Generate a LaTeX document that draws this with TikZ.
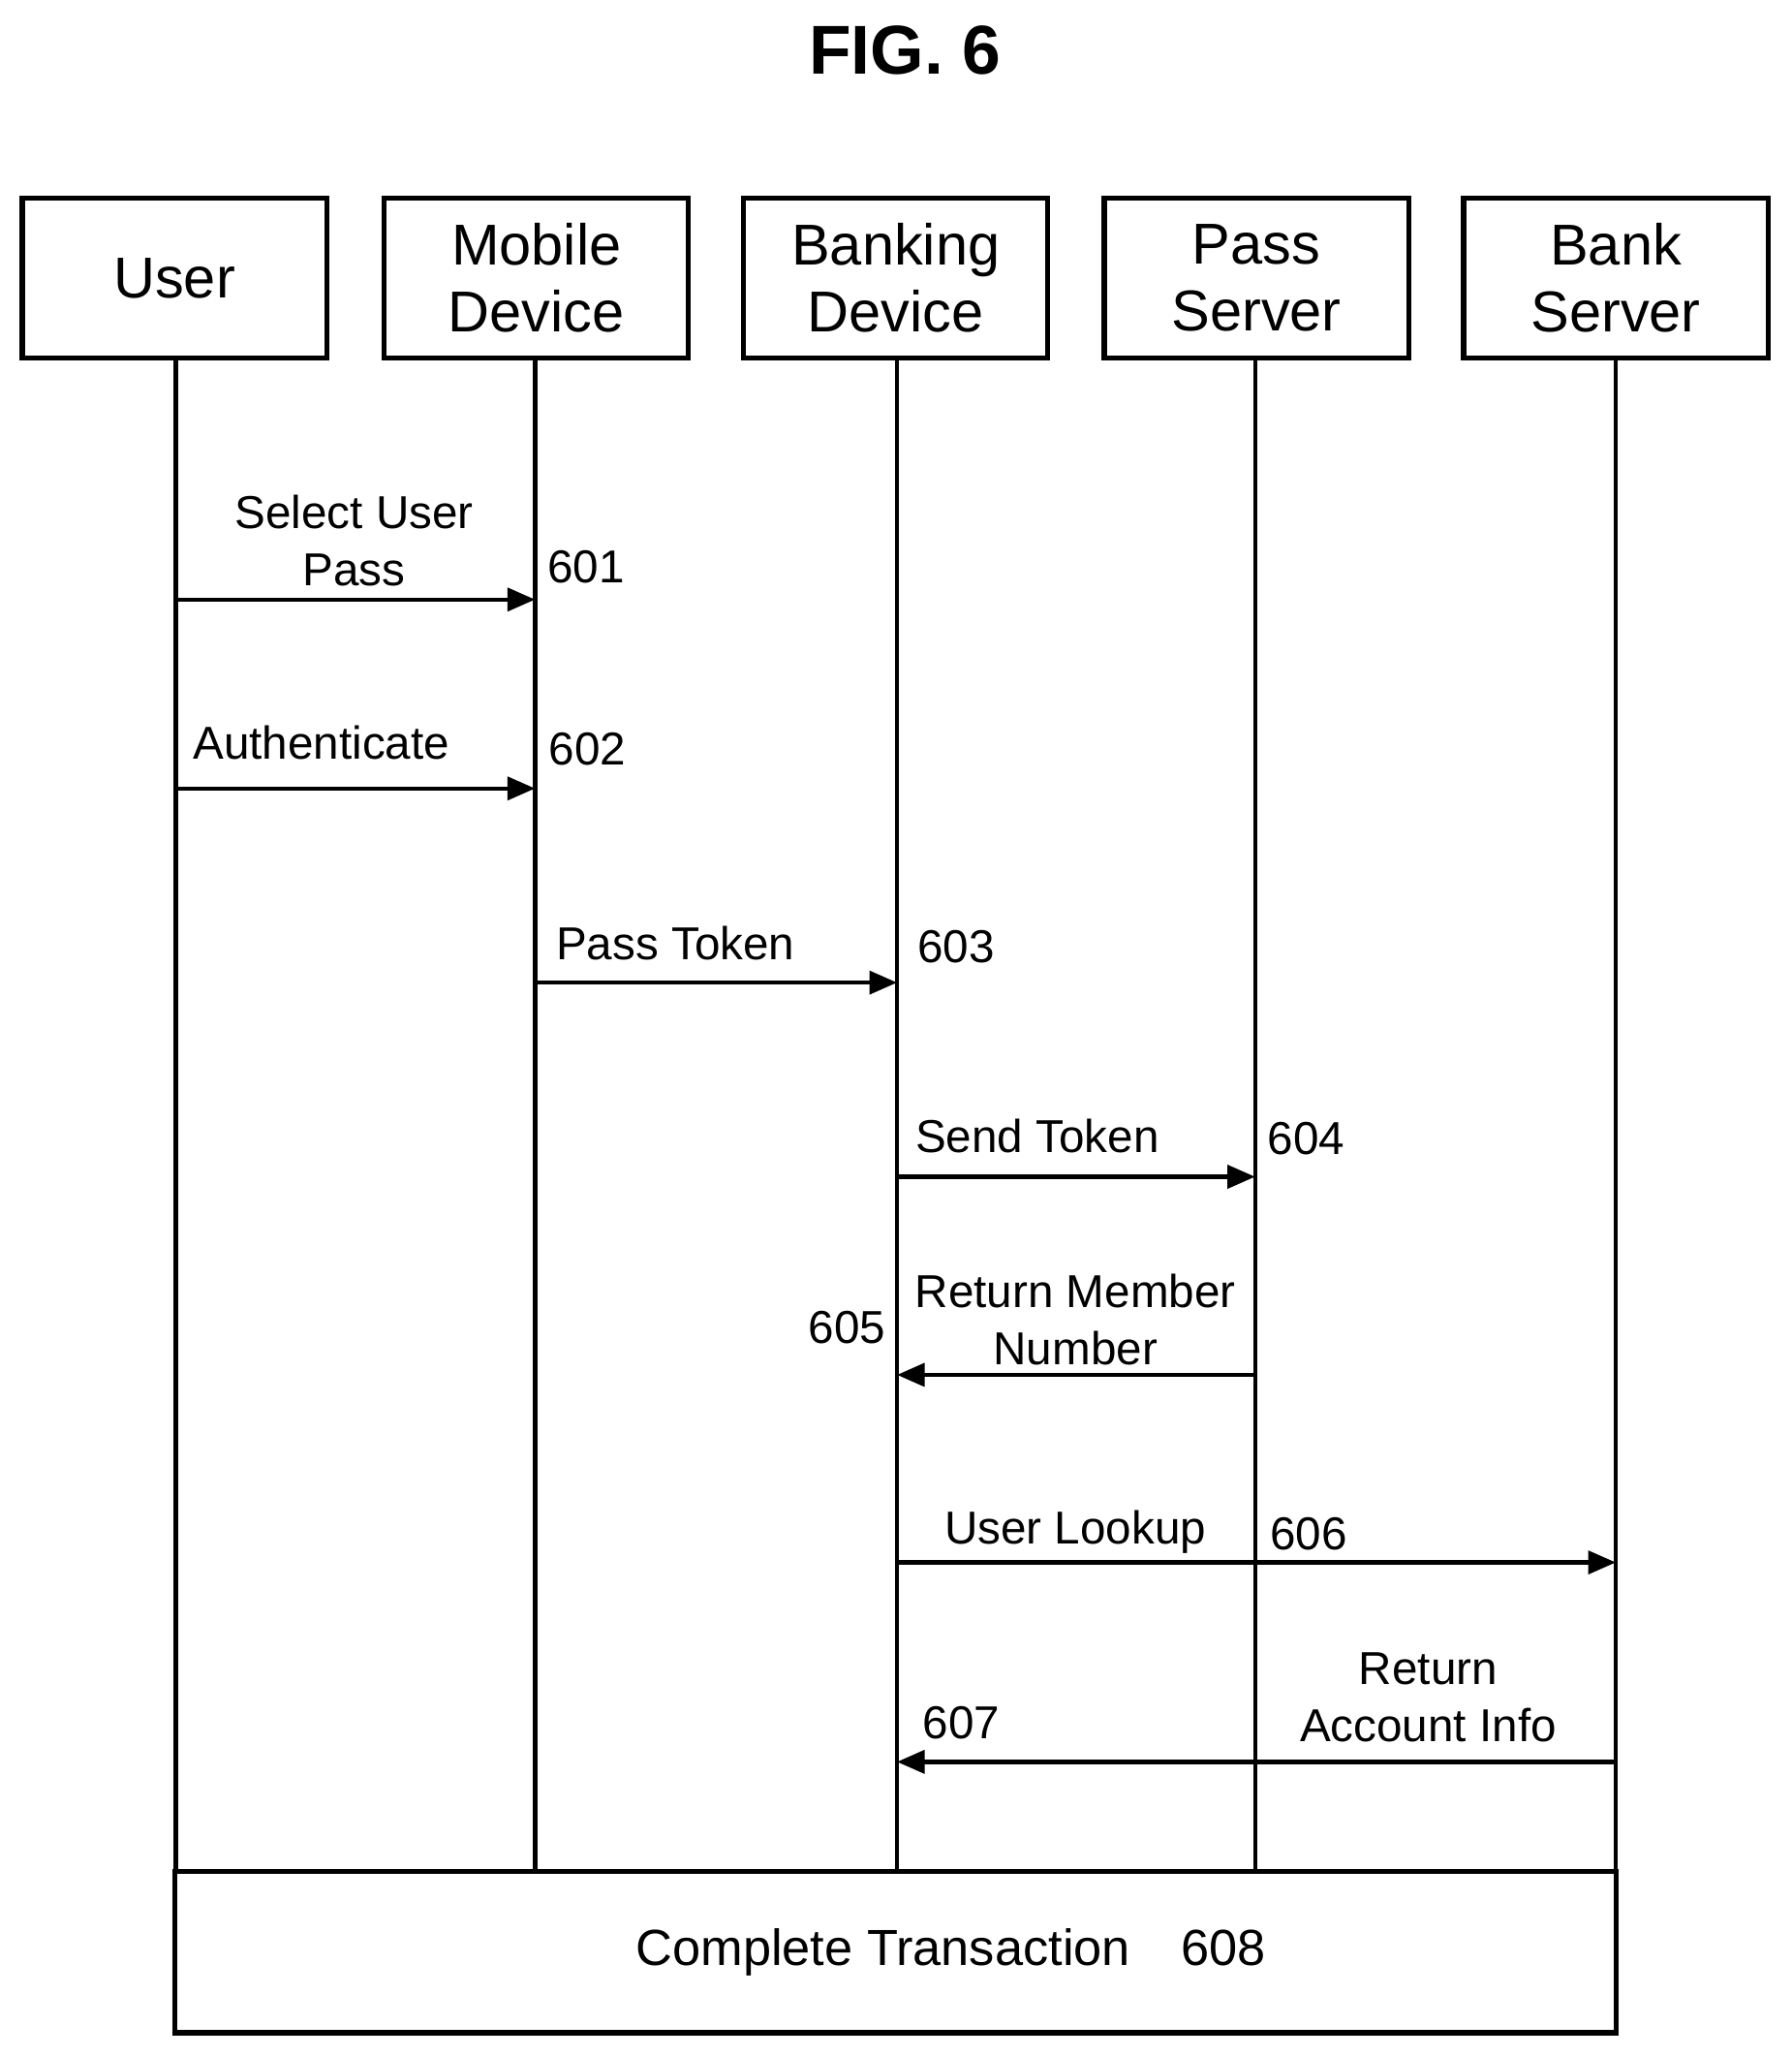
\documentclass[tikz,border=0pt]{standalone}
\usepackage{fontspec}
\setmainfont{Liberation Sans}
\usetikzlibrary{arrows.meta}
\begin{document}
\begin{tikzpicture}[x=0.01cm,y=-0.01cm,
  box/.style={draw,line width=1.1pt,minimum width=232*0.01cm,minimum height=122*0.01cm,align=center,font=\fontsize{12.5}{14.5}\selectfont,inner sep=0pt},
  life/.style={line width=0.9pt},
  msg/.style={line width=0.9pt,-{Triangle[length=6pt,width=5pt]}},
  lab/.style={font=\fontsize{10}{12.5}\selectfont,align=center,inner sep=0pt}]
\useasboundingbox (0,0) rectangle (1366,1568);
\node[font=\bfseries\fontsize{15}{18}\selectfont] (title) at (690,38) {FIG. 6};
\node[box] (u) at (133,212) {User};
\node[box] (m) at (409,212) {Mobile\\Device};
\node[box] (bd) at (683,212) {Banking\\Device};
\node[box] (ps) at (958,212) {Pass\\Server};
\node[box] (bs) at (1232,212) {Bank\\Server};
\node[draw,line width=1.1pt,minimum width=1099*0.01cm,minimum height=123*0.01cm,inner sep=0pt] (ct) at (683,1488) {};
\node[lab,font=\fontsize{11}{13}\selectfont] (ctl) at (725,1488) {Complete Transaction\quad 608};
\foreach \n/\x in {uL/134,mL/408,bL/684,pL/957,sL/1232}{
  \coordinate (\n t) at (\x,273); \coordinate (\n b) at (\x,1427);
  \draw[life] (\n t) -- (\n b);}
\foreach \n/\x/\y in {a1/134/457,a2/408/457,b1/134/601,b2/408/601,c1/408/749,c2/684/749,d1/684/897,d2/957/897,e1/957/1048,e2/684/1048,f1/684/1191,f2/1232/1191,g1/1232/1343,g2/684/1343}
  \coordinate (\n) at (\x,\y);
\draw[msg] (a1) -- (a2);
\draw[msg] (b1) -- (b2);
\draw[msg] (c1) -- (c2);
\draw[msg] (d1) -- (d2);
\draw[msg] (e1) -- (e2);
\draw[msg] (f1) -- (f2);
\draw[msg] (g1) -- (g2);
\node[lab] (l1) at (270,412) {Select User\\Pass};
\node[lab] (n1) at (447,432) {601};
\node[lab] (l2) at (245,566) {Authenticate};
\node[lab] (n2) at (448,571) {602};
\node[lab] (l3) at (515,719) {Pass Token};
\node[lab] (n3) at (729,722) {603};
\node[lab] (l4) at (791,866) {Send Token};
\node[lab] (n4) at (996,868) {604};
\node[lab] (l5) at (820,1006) {Return Member\\Number};
\node[lab] (n5) at (646,1012) {605};
\node[lab] (l6) at (820,1168) {User Lookup};
\node[lab] (n6) at (998,1169) {606};
\node[lab] (l7) at (1089,1294) {Return\\Account Info};
\node[lab] (n7) at (733,1313) {607};
\end{tikzpicture}
\end{document}
